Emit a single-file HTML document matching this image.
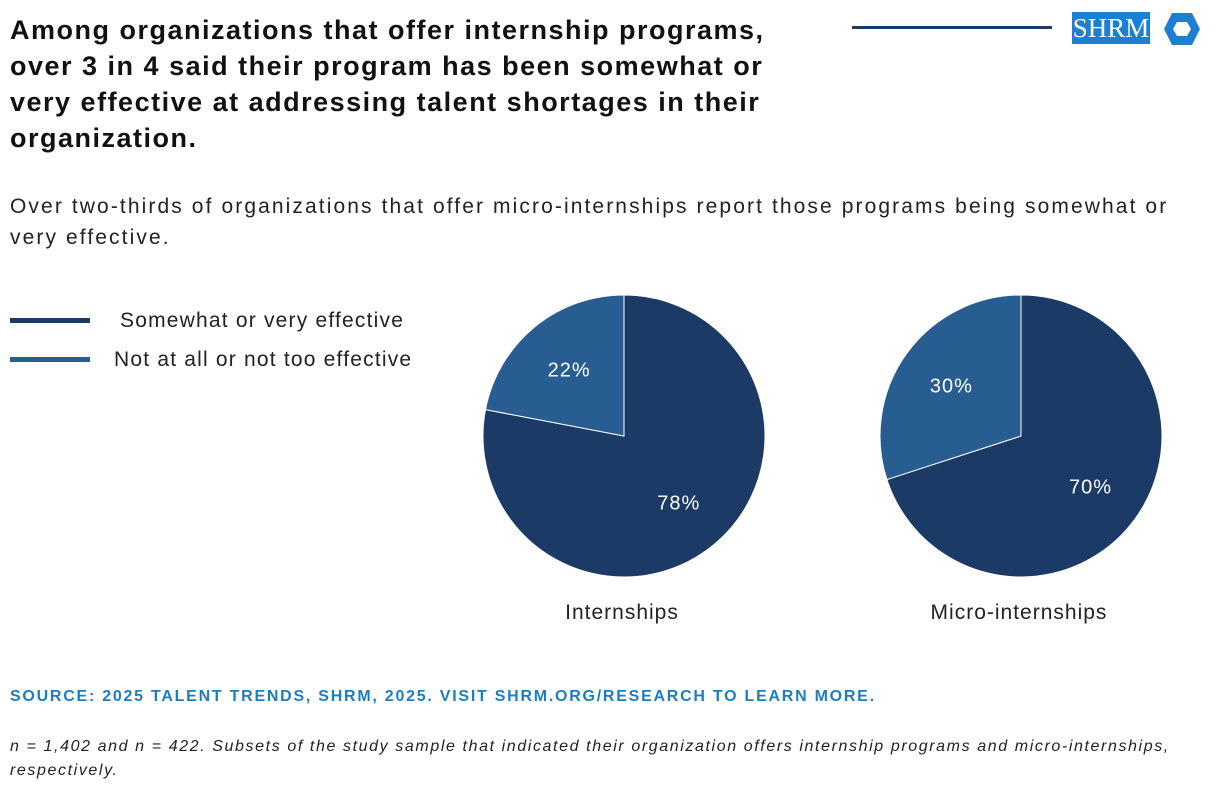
<!DOCTYPE html>
<html><head><meta charset="utf-8"><style>
body{margin:0;width:1220px;height:790px;background:#fff;font-family:"Liberation Sans",sans-serif;overflow:hidden;position:relative}
.t{position:absolute;left:10px;top:12px;width:790px;font-size:27px;font-weight:bold;line-height:36px;color:#111;letter-spacing:1.5px}
.s{position:absolute;left:10px;top:191px;width:1185px;font-size:21px;line-height:31px;color:#222;letter-spacing:2.1px}
.src{position:absolute;left:10px;top:688px;font-size:16px;font-weight:bold;color:#1a7ec2;letter-spacing:1.75px;white-space:nowrap}
.n{position:absolute;left:10px;top:735px;font-size:16px;font-style:italic;line-height:24px;color:#222;width:1190px;letter-spacing:1.6px}
</style></head><body>
<div class="t">Among organizations that offer internship programs, over 3 in 4 said their program has been somewhat or very effective at addressing talent shortages in their organization.</div>
<div class="s">Over two-thirds of organizations that offer micro-internships report those programs being somewhat or very effective.</div>
<div style="position:absolute;left:852px;top:26px;width:200px;height:3px;background:#1b3a66"></div>
<div style="position:absolute;left:1072px;top:12px;width:78px;height:32px;background:#1d7fd1;color:#fff;font-family:'Liberation Serif',serif;font-size:27px;line-height:32px;text-align:center">SHRM</div>
<svg style="position:absolute;left:1163px;top:12px" width="38" height="34"><polygon points="9,1 29,1 37,17 29,33 9,33 1,17" fill="#1d7fd1"/><polygon points="14,10 24,10 28,17 24,24 14,24 10,17" fill="#fff"/></svg>
<svg id="c" width="1220" height="790" style="position:absolute;left:0;top:0"></svg>
<div class="src">SOURCE: 2025 TALENT TRENDS, SHRM, 2025. VISIT SHRM.ORG/RESEARCH TO LEARN MORE.</div>
<div class="n">n = 1,402 and n = 422. Subsets of the study sample that indicated their organization offers internship programs and micro-internships, respectively.</div>
<script>
const categories=["Internships","Micro-internships"];
const seriesNames=["Somewhat or very effective","Not at all or not too effective"];
const effective=[78,70];
const notEffective=[22,30];
const colors=["#1b3a66","#275d91"];
const svg=document.getElementById('c');const NS="http://www.w3.org/2000/svg";
function mk(t,a){const e=document.createElementNS(NS,t);for(const k in a)e.setAttribute(k,a[k]);svg.appendChild(e);return e;}
seriesNames.forEach((s,i)=>{
 const y=320+i*39;
 const l=mk('rect',{x:10,y:y-2,width:80,height:5,fill:colors[i]});
 
 
 const t=mk('text',{x:i==0?120:114,y:y+7,'font-size':21,fill:'#222','font-family':'Liberation Sans','letter-spacing':'1.2'});t.textContent=s;
 
 
});
const centers=[624,1021],cy=436,R=141;
function pt(cx,a,r){return [cx+r*Math.sin(a),cy-r*Math.cos(a)];}
categories.forEach((c,i)=>{
 const cx=centers[i];const tot=effective[i]+notEffective[i];
 const vals=[effective[i],notEffective[i]];let a0=0;
 vals.forEach((v,j)=>{
  const a1=a0+v/tot*2*Math.PI;
  const p0=pt(cx,a0,R),p1=pt(cx,a1,R);
  const p=mk('path',{d:`M${cx},${cy}L${p0[0]},${p0[1]}A${R},${R} 0 ${a1-a0>Math.PI?1:0} 1 ${p1[0]},${p1[1]}Z`,fill:colors[j],stroke:'#fff','stroke-width':1});
  
  
  const m=(a0+a1)/2,lp=pt(cx,m,86);
  const t=mk('text',{x:lp[0],y:lp[1]+7,'text-anchor':'middle','font-size':20,fill:'#fff','font-family':'Liberation Sans','letter-spacing':'1'});t.textContent=v+'%';
  
  
  a0=a1;
 });
 const t=mk('text',{x:cx-2,y:619,'text-anchor':'middle','font-size':21,fill:'#222','font-family':'Liberation Sans','letter-spacing':'1'});t.textContent=c;
 
 
});
</script>
</body></html>
